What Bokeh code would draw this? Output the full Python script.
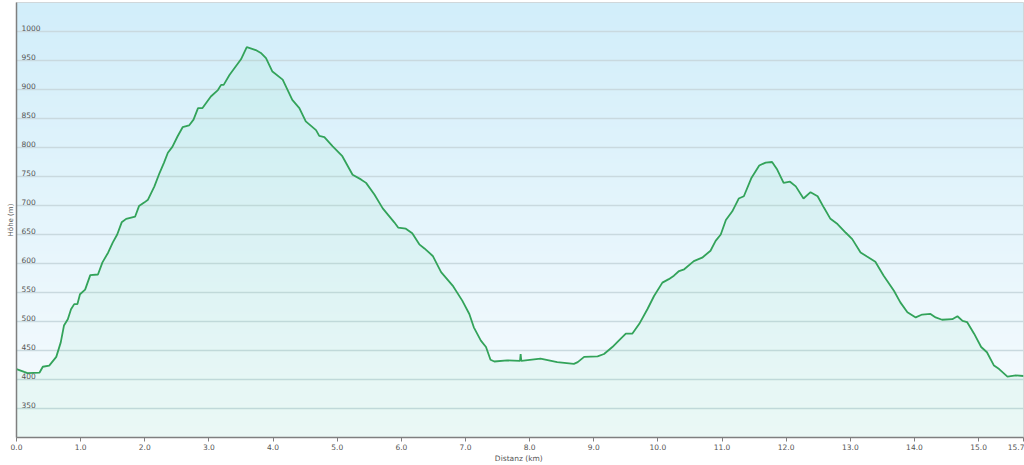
import numpy as np
from bokeh.plotting import figure
from bokeh.models import FixedTicker, PrintfTickFormatter, Range1d
from bokeh.core.properties import value
from bokeh.embed import file_html
from bokeh.resources import INLINE

# ---- data ----
dist_km = [0.00, 0.12, 0.17, 0.36, 0.41, 0.51, 0.62, 0.69, 0.74, 0.80, 0.85, 0.90, 0.95, 0.99,
           1.07, 1.15, 1.27, 1.34, 1.43, 1.50, 1.57, 1.64, 1.71, 1.85, 1.91, 1.99, 2.05, 2.15,
           2.23, 2.30, 2.36, 2.43, 2.51, 2.59, 2.69, 2.76, 2.83, 2.90, 3.03, 3.14, 3.19, 3.23,
           3.32, 3.42, 3.50, 3.59, 3.65, 3.73, 3.81, 3.89, 3.99, 4.15, 4.30, 4.41, 4.51, 4.67,
           4.72, 4.80, 4.93, 5.08, 5.24, 5.37, 5.45, 5.58, 5.71, 5.89, 5.95, 6.07, 6.17, 6.28,
           6.36, 6.49, 6.62, 6.80, 6.95, 7.06, 7.13, 7.24, 7.32, 7.39, 7.45, 7.65, 7.85, 7.86,
           7.87, 8.17, 8.43, 8.69, 8.75, 8.85, 9.06, 9.16, 9.29, 9.39, 9.50, 9.60, 9.71, 9.84,
           9.94, 10.07, 10.17, 10.25, 10.33, 10.41, 10.56, 10.69, 10.82, 10.90, 10.98, 11.06,
           11.16, 11.26, 11.34, 11.46, 11.58, 11.68, 11.78, 11.86, 11.96, 12.06, 12.15, 12.27,
           12.38, 12.49, 12.59, 12.69, 12.80, 12.93, 13.03, 13.16, 13.26, 13.39, 13.52, 13.68,
           13.78, 13.89, 14.02, 14.12, 14.25, 14.33, 14.43, 14.59, 14.67, 14.75, 14.82, 14.93,
           15.04, 15.13, 15.24, 15.32, 15.45, 15.58, 15.70]
elev_m = [418, 413, 411, 412, 422, 424, 439, 464, 493, 504, 521, 530, 530, 547,
          555, 580, 581, 602, 619, 636, 650, 671, 677, 681, 699, 705, 710, 733,
          756, 774, 791, 801, 819, 835, 838, 848, 868, 868, 888, 899, 908, 908,
          925, 940, 952, 973, 971, 968, 963, 954, 931, 917, 882, 868, 845, 830,
          820, 818, 802, 785, 753, 745, 739, 719, 695, 671, 662, 660, 652, 633,
          626, 613, 585, 562, 536, 513, 490, 467, 456, 434, 431, 433, 432, 444,
          432, 436, 430, 427, 430, 439, 440, 444, 456, 467, 479, 479, 496, 522,
          544, 567, 573, 579, 587, 590, 604, 610, 622, 639, 650, 675,
          690, 712, 716, 748, 769, 774, 775, 762, 739, 741, 733, 712,
          723, 716, 696, 677, 668, 653, 642, 619, 612, 603, 579, 553,
          533, 516, 507, 512, 513, 507, 503, 504, 509, 501, 499, 479,
          456, 447, 424, 418, 405, 407, 406]

x_ticks = [0, 1, 2, 3, 4, 5, 6, 7, 8, 9, 10, 11, 12, 13, 14, 15, 15.7]
y_ticks = [350, 400, 450, 500, 550, 600, 650, 700, 750, 800, 850, 900, 950, 1000]
y_labels = [str(v) for v in y_ticks]

X_MIN, X_MAX = 0, 15.7
Y_MIN, Y_MAX = 300, 1050

FONT = "DejaVu Sans"
TXT = "#555555"

p = figure(width=1024, height=465, output_backend="svg", toolbar_location=None,
           x_range=Range1d(X_MIN, X_MAX), y_range=Range1d(Y_MIN, Y_MAX),
           min_border_left=16, min_border_right=1, min_border_top=2, min_border_bottom=26)
p.outline_line_color = "#d0d0d0"
p.outline_line_width = 1
p.background_fill_color = "#eef8fc"
p.border_fill_color = "white"

# background gradient (light blue at the top, almost white at the bottom)
n = 256
t = np.linspace(0, 1, n)[:, None]  # 0 bottom -> 1 top
top = np.array([210, 238, 250])
bot = np.array([248, 252, 254])
rgb = (bot + (top - bot) * t).astype(np.uint32)
img = np.empty((n, 1), dtype=np.uint32)
view = img.view(dtype=np.uint8).reshape((n, 1, 4))
view[:, 0, 0] = rgb[:, 0]
view[:, 0, 1] = rgb[:, 1]
view[:, 0, 2] = rgb[:, 2]
view[:, 0, 3] = 255
p.image_rgba(image=[img], x=X_MIN, y=Y_MIN, dw=X_MAX - X_MIN, dh=Y_MAX - Y_MIN, level="image")

# area + line
p.varea(x=dist_km, y1=[Y_MIN] * len(dist_km), y2=elev_m, fill_color="#5ad898", fill_alpha=0.08)
p.line(dist_km, elev_m, line_color="#33a35a", line_width=1.8)

# x axis
p.xaxis.ticker = FixedTicker(ticks=x_ticks)
p.xaxis.formatter = PrintfTickFormatter(format="%.1f")
p.xaxis.axis_label = "Distanz  (km)"
p.xaxis.axis_label_text_font = FONT
p.xaxis.axis_label_text_font_style = "normal"
p.xaxis.axis_label_text_font_size = "7.5px"
p.xaxis.axis_label_text_color = TXT
p.xaxis.axis_label_standoff = 1
p.xaxis.major_label_text_font = FONT
p.xaxis.major_label_text_font_size = "7.5px"
p.xaxis.major_label_text_color = TXT
p.xaxis.major_label_standoff = 2
p.xaxis.major_tick_in = 0
p.xaxis.major_tick_out = 4
p.xaxis.minor_tick_out = 0
p.xaxis.minor_tick_in = 0
p.xaxis.axis_line_color = "#7f7f7f"
p.xaxis.major_tick_line_color = "#7f7f7f"
p.xaxis.axis_line_width = 1.5

# y axis: no ticks of its own, labels drawn inside the plot
p.yaxis.ticker = FixedTicker(ticks=[])
p.yaxis.major_tick_out = 0
p.yaxis.major_tick_in = 0
p.yaxis.minor_tick_out = 0
p.yaxis.minor_tick_in = 0
p.yaxis.axis_line_color = "#7f7f7f"
p.yaxis.axis_line_width = 1.5
p.yaxis.axis_label = "Höhe (m)"
p.yaxis.axis_label_text_font = FONT
p.yaxis.axis_label_text_font_style = "normal"
p.yaxis.axis_label_text_font_size = "7px"
p.yaxis.axis_label_text_color = TXT
p.yaxis.axis_label_standoff = 2

p.xgrid.visible = False
p.ygrid.ticker = FixedTicker(ticks=y_ticks)
p.ygrid.grid_line_color = "#c9d9df"
p.ygrid.grid_line_width = 1.6

p.text(x=[X_MIN] * len(y_ticks), y=y_ticks, text=y_labels,
       x_offset=5, y_offset=-4, text_align="left", text_baseline="middle",
       text_font=value(FONT), text_font_size="7.5px", text_color=TXT)

open("out.html", "w").write(file_html(p, INLINE))
